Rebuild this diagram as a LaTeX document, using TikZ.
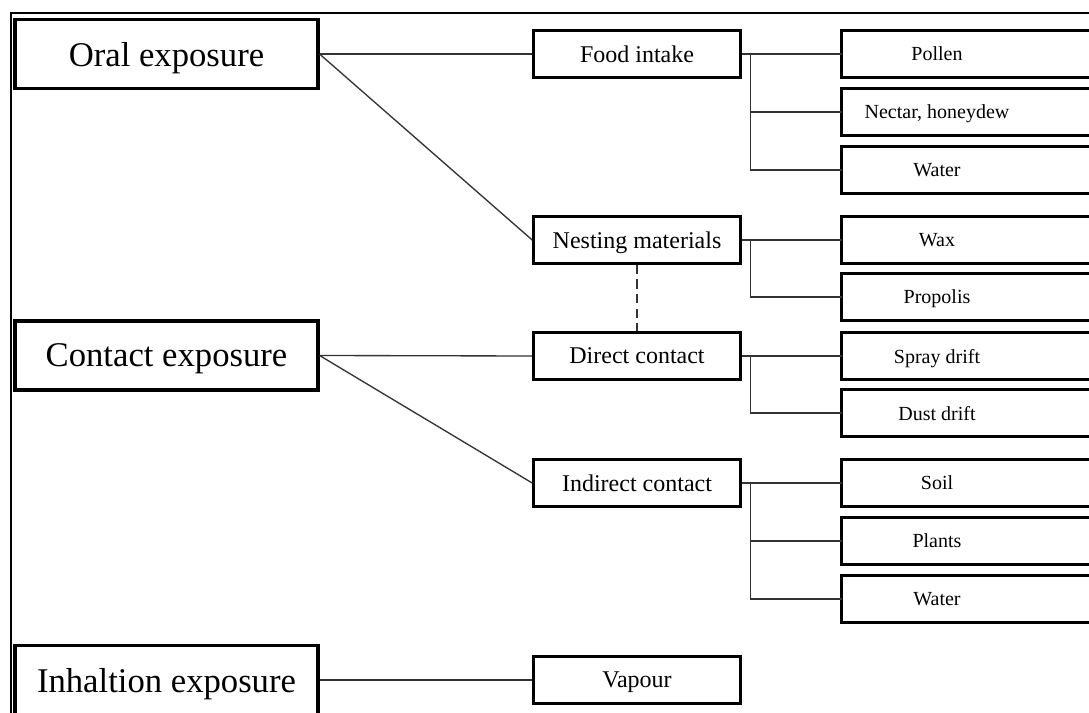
\documentclass[tikz,border=0pt]{standalone}
\usepackage{fontspec}
\setmainfont{Liberation Serif}
\tikzset{every picture/.style={line width=0.75pt}}

\begin{document}
\begin{tikzpicture}[x=0.75pt,y=0.75pt,yscale=-1,xscale=1,
  exposure/.style={draw, line width=2.6pt, minimum width=227pt, minimum height=52pt, inner sep=0pt, text depth=0pt, font=\fontsize{26}{30}\selectfont},
  route/.style={draw, line width=2.2pt, minimum width=155pt, minimum height=35pt, inner sep=0pt, text depth=0pt, font=\fontsize{18}{21}\selectfont},
  source/.style={minimum width=142.5pt, minimum height=35pt, inner sep=0pt, text depth=0pt, font=\fontsize{15}{18}\selectfont},
  openbox/.style={line width=2.3pt},
  link/.style={line width=1pt, draw=black!80}]

\clip (0,0) rectangle (1089,713);
%Frame
\draw [line width=1.1pt] (11,730) -- (11,13) -- (1100,13) ;

% Exposure boxes
\node [exposure] (oral) at (166.5,54) {Oral exposure};
\node [exposure] (contact) at (166.5,355.5) {Contact exposure};
\node [exposure] (inhal) at (166.5,680) {Inhaltion exposure};

% Route boxes
\node [route] (food) at (637,54) {Food intake};
\node [route] (nesting) at (637,240) {Nesting materials};
\node [route] (direct) at (637,356) {Direct contact};
\node [route] (indirect) at (637,483) {Indirect contact};
\node [route] (vapour) at (637,680) {Vapour};

% Source boxes (cut at the right)
\node [source] (pollen) at (937,54) {Pollen};
\node [source] (nectar) at (937,112) {Nectar, honeydew};
\node [source] (watera) at (937,170) {Water};
\node [source] (wax) at (937,240) {Wax};
\node [source] (propolis) at (937,297) {Propolis};
\node [source] (spray) at (937,356) {Spray drift};
\node [source] (dust) at (937,413) {Dust drift};
\node [source] (soil) at (937,483) {Soil};
\node [source] (plants) at (937,541) {Plants};
\node [source] (waterb) at (937,599) {Water};
\foreach \n in {pollen,nectar,watera,wax,propolis,spray,dust,soil,plants,waterb}
  \draw [openbox] ([xshift=60pt]\n.north east) -- (\n.north west) -- (\n.south west) -- ([xshift=60pt]\n.south east) ;

% Exposure to route
\draw [link] (oral.east) -- (food.west) ;
\draw [link] (oral.east) -- (nesting.west) ;
\draw [link] (contact.east) -- (direct.west) ;
\draw [link] (contact.east) -- (indirect.west) ;
\draw [link] (inhal.east) -- (vapour.west) ;
\draw [link, dash pattern=on 7pt off 4pt] (nesting.south) -- (direct.north) ;

% Route to source
\coordinate (jfood) at ([xshift=6.75pt]food.east);
\draw [link] (food.east) -- (pollen.west) ;
\draw [link] (jfood) |- (nectar.west) ;
\draw [link] (jfood) |- (watera.west) ;

\coordinate (jnest) at ([xshift=6.75pt]nesting.east);
\draw [link] (nesting.east) -- (wax.west) ;
\draw [link] (jnest) |- (propolis.west) ;

\coordinate (jdirect) at ([xshift=6.75pt]direct.east);
\draw [link] (direct.east) -- (spray.west) ;
\draw [link] (jdirect) |- (dust.west) ;

\coordinate (jindirect) at ([xshift=6.75pt]indirect.east);
\draw [link] (indirect.east) -- (soil.west) ;
\draw [link] (jindirect) |- (plants.west) ;
\draw [link] (jindirect) |- (waterb.west) ;

\end{tikzpicture}
\end{document}
